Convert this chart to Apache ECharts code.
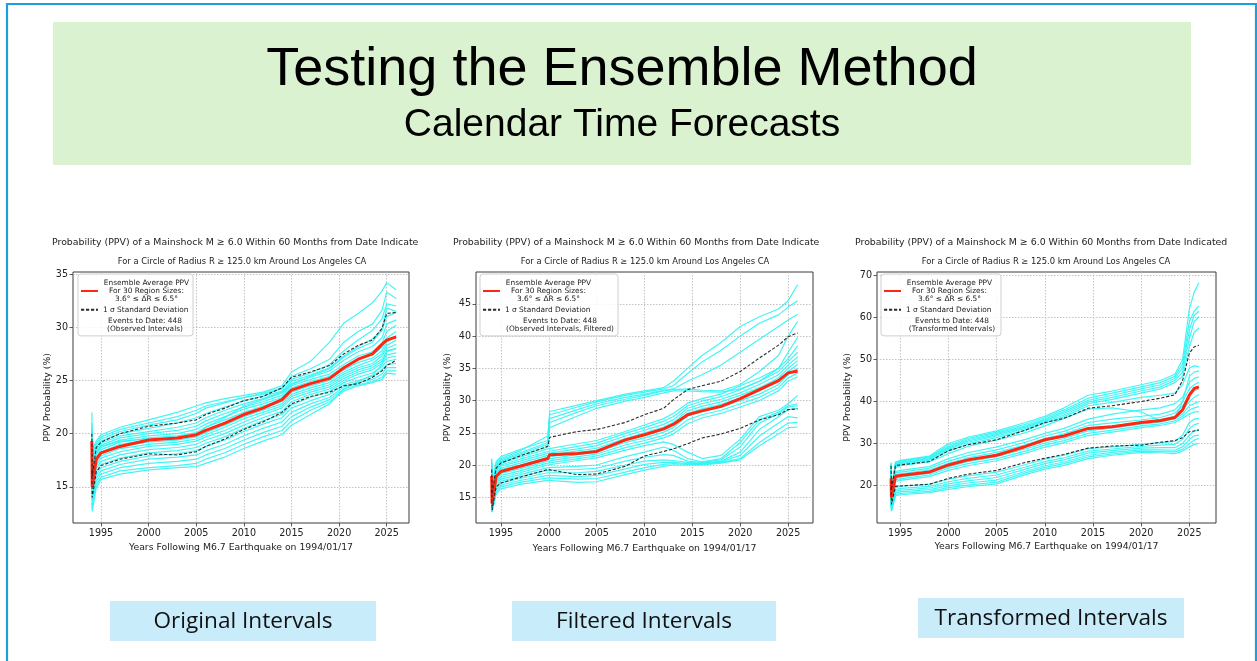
<!DOCTYPE html>
<html>
<head>
<meta charset="utf-8">
<title>Testing the Ensemble Method</title>
<script src="https://cdn.jsdelivr.net/npm/echarts@6/dist/echarts.min.js"></script>
<style>
  html, body { margin: 0; padding: 0; background: #ffffff; }
  #main { width: 1257px; height: 661px; }
</style>
</head>
<body>
<div id="main"></div>
<script>
// ---------------------------------------------------------------
// Shared text and tick labels
// ---------------------------------------------------------------
const SLIDE_TITLE = 'Testing the Ensemble Method';
const SLIDE_SUBTITLE = 'Calendar Time Forecasts';
const PLOT_TITLE = 'Probability (PPV) of a Mainshock M \u2265 6.0 Within 60 Months from Date Indicated';
const PLOT_SUBTITLE = 'For a Circle of Radius R \u2265 125.0 km Around Los Angeles CA';
const X_NAME = 'Years Following M6.7 Earthquake on 1994/01/17';
const Y_NAME = 'PPV Probability (%)';
const LEGEND_ENSEMBLE = ['Ensemble Average PPV', 'For 30 Region Sizes:', '3.6\u00b0 \u2264 \u0394R \u2264 6.5\u00b0'];
const LEGEND_SIGMA = ['1 \u03c3 Standard Deviation'];
const PANEL_LABELS = ['Original Intervals', 'Filtered Intervals', 'Transformed Intervals'];

const X_TICKS = [1995, 2000, 2005, 2010, 2015, 2020, 2025];

// ---------------------------------------------------------------
// Panel 1: observed intervals
// ---------------------------------------------------------------
const NOTE_ORIG = ['Events to Date: 448', '(Observed Intervals)'];
const Y_TICKS_ORIG = [15, 20, 25, 30, 35];
const YEARS_ORIG = [1994.04, 1994.08, 1994.5, 1995, 1997, 2000, 2003, 2005, 2006, 2008, 2010, 2012, 2014, 2015, 2017, 2019, 2020.5, 2022, 2023.5, 2024.5, 2025, 2026];
const MEAN_ORIG  = [19.3, 15.0, 17.6, 18.2, 18.8, 19.4, 19.6, 19.9, 20.3, 21.0, 21.8, 22.4, 23.2, 24.1, 24.7, 25.2, 26.2, 27.0, 27.5, 28.4, 28.8, 29.1];
const UPPER_ORIG = [20.0, 16.0, 18.7, 19.2, 20.0, 20.7, 21.0, 21.3, 21.8, 22.4, 23.1, 23.5, 24.3, 25.3, 25.8, 26.4, 27.5, 28.3, 28.8, 29.9, 31.3, 31.4];
const LOWER_ORIG = [16.5, 14.0, 16.4, 17.0, 17.6, 18.1, 18.0, 18.3, 18.8, 19.5, 20.4, 21.1, 22.0, 22.8, 23.5, 23.9, 24.5, 24.7, 25.3, 25.9, 26.4, 26.9];
const REGIONS_ORIG = [
  [22.0, 18.5, 19.3, 19.9, 20.6, 21.3, 22.0, 22.6, 22.9, 23.3, 23.6, 23.9, 24.5, 25.8, 26.8, 28.6, 30.4, 31.3, 32.3, 33.4, 34.2, 33.5],
  [21.0, 18.2, 19.1, 19.7, 20.4, 21.0, 21.6, 22.2, 22.6, 23.0, 23.4, 23.7, 24.2, 25.4, 26.1, 27.0, 28.6, 29.6, 30.3, 31.6, 33.3, 32.7],
  [20.5, 17.9, 18.9, 19.5, 20.2, 20.8, 21.3, 21.9, 22.4, 22.9, 23.4, 23.8, 24.3, 25.1, 25.7, 26.5, 27.8, 28.8, 29.7, 30.8, 32.2, 32.0],
  [20.0, 17.6, 18.7, 19.3, 20.0, 20.5, 21.0, 21.5, 21.9, 22.5, 23.1, 23.5, 24.0, 24.9, 25.5, 26.2, 27.3, 28.2, 28.9, 29.7, 31.0, 31.4],
  [19.6, 17.3, 18.5, 19.1, 19.8, 20.2, 20.6, 21.0, 21.5, 22.2, 22.8, 23.3, 23.9, 24.7, 25.3, 25.9, 26.9, 27.7, 28.2, 29.0, 30.3, 30.7],
  [19.2, 17.0, 18.3, 18.9, 19.6, 20.0, 20.3, 20.7, 21.2, 21.9, 22.5, 23.0, 23.6, 24.5, 25.1, 25.6, 26.5, 27.3, 27.7, 28.5, 29.6, 30.2],
  [18.8, 16.8, 18.1, 18.7, 19.4, 19.8, 20.0, 20.4, 20.9, 21.6, 22.3, 22.8, 23.4, 24.3, 24.9, 25.4, 26.2, 27.0, 27.4, 28.1, 29.0, 29.6],
  [18.5, 16.5, 17.9, 18.5, 19.2, 19.6, 19.8, 20.1, 20.6, 21.3, 22.0, 22.6, 23.2, 24.1, 24.7, 25.2, 26.0, 26.7, 27.1, 27.8, 28.6, 29.2],
  [18.2, 16.2, 17.7, 18.3, 19.0, 19.4, 19.6, 19.9, 20.3, 21.0, 21.8, 22.4, 23.0, 23.9, 24.5, 25.0, 25.8, 26.4, 26.9, 27.5, 28.3, 28.8],
  [17.8, 16.0, 17.5, 18.1, 18.8, 19.2, 19.4, 19.7, 20.1, 20.8, 21.6, 22.2, 22.8, 23.7, 24.3, 24.8, 25.6, 26.2, 26.6, 27.3, 28.0, 28.4],
  [17.4, 15.7, 17.3, 17.9, 18.6, 19.0, 19.2, 19.5, 19.9, 20.6, 21.4, 22.0, 22.6, 23.5, 24.1, 24.6, 25.4, 26.0, 26.4, 27.0, 27.7, 28.0],
  [17.0, 15.4, 17.0, 17.7, 18.3, 18.8, 19.0, 19.3, 19.7, 20.3, 21.1, 21.8, 22.4, 23.3, 23.9, 24.4, 25.2, 25.8, 26.2, 26.8, 27.4, 27.6],
  [16.6, 15.1, 16.7, 17.4, 18.0, 18.5, 18.7, 19.0, 19.4, 20.0, 20.8, 21.5, 22.1, 23.0, 23.7, 24.2, 25.0, 25.6, 26.0, 26.6, 27.1, 27.3],
  [16.2, 14.8, 16.4, 17.1, 17.7, 18.2, 18.4, 18.7, 19.1, 19.7, 20.5, 21.2, 21.8, 22.7, 23.4, 24.0, 24.8, 25.3, 25.7, 26.3, 26.8, 27.0],
  [15.8, 14.5, 16.1, 16.8, 17.4, 17.9, 18.1, 18.4, 18.8, 19.4, 20.2, 20.9, 21.5, 22.4, 23.1, 23.7, 24.6, 25.0, 25.4, 26.0, 26.5, 26.6],
  [15.3, 14.1, 15.8, 16.5, 17.1, 17.6, 17.8, 18.0, 18.4, 19.0, 19.8, 20.5, 21.1, 22.0, 22.8, 23.4, 24.4, 24.8, 25.1, 25.6, 26.2, 26.2],
  [14.8, 13.7, 15.5, 16.2, 16.8, 17.2, 17.4, 17.6, 18.0, 18.6, 19.4, 20.1, 20.7, 21.6, 22.5, 23.2, 24.2, 24.6, 24.9, 25.3, 25.9, 25.9],
  [14.2, 13.3, 15.2, 15.9, 16.5, 16.8, 17.0, 17.2, 17.6, 18.2, 19.0, 19.7, 20.3, 21.2, 22.2, 23.0, 24.0, 24.5, 24.8, 25.1, 25.7, 25.6],
  [13.5, 12.7, 14.9, 15.7, 16.2, 16.6, 16.8, 16.9, 17.2, 17.8, 18.6, 19.3, 19.9, 20.8, 21.8, 22.8, 24.2, 24.9, 25.5, 26.5, 27.8, 28.0],
  [19.0, 16.9, 18.2, 18.8, 19.3, 19.5, 19.5, 19.8, 20.6, 21.5, 22.6, 23.2, 23.8, 24.6, 25.4, 26.1, 27.2, 28.0, 28.6, 29.8, 31.8, 31.5]
];

// ---------------------------------------------------------------
// Panel 2: observed intervals, filtered
// ---------------------------------------------------------------
const NOTE_FILT = ['Events to Date: 448', '(Observed Intervals, Filtered)'];
const Y_TICKS_FILT = [15, 20, 25, 30, 35, 40, 45];
const YEARS_FILT = [1994.04, 1994.08, 1994.5, 1995, 1997, 1999.9, 2000.1, 2003, 2005, 2008, 2010, 2012, 2013, 2014.5, 2016, 2018, 2020, 2022, 2024, 2025, 2026];
const MEAN_FILT  = [18.3, 14.0, 18.2, 19.0, 19.8, 21.0, 21.6, 21.8, 22.1, 23.9, 24.7, 25.6, 26.3, 27.8, 28.4, 29.1, 30.3, 31.7, 33.1, 34.3, 34.6];
const UPPER_FILT = [19.3, 15.5, 19.5, 20.3, 21.4, 22.9, 24.3, 25.2, 25.5, 26.6, 27.8, 28.8, 30.1, 31.7, 32.3, 33.0, 34.5, 36.6, 38.6, 39.9, 40.5];
const LOWER_FILT = [16.2, 13.0, 16.6, 17.2, 18.1, 19.3, 19.3, 18.5, 18.6, 19.8, 21.4, 22.1, 22.5, 23.3, 24.2, 24.8, 25.7, 27.0, 27.8, 28.6, 28.7];
const REGIONS_FILT = [
  [21.0, 17.0, 20.5, 21.3, 22.4, 23.8, 28.3, 29.3, 30.0, 31.0, 31.5, 32.0, 33.0, 35.0, 37.0, 39.0, 41.5, 43.0, 44.2, 45.5, 48.0],
  [20.8, 16.8, 20.3, 21.0, 22.2, 24.5, 27.8, 29.0, 29.8, 30.8, 31.3, 31.8, 32.3, 34.2, 36.0, 37.8, 40.0, 42.0, 43.3, 44.5, 45.5],
  [20.5, 16.5, 20.0, 20.8, 21.9, 23.5, 27.2, 28.6, 29.5, 30.5, 31.0, 31.6, 31.8, 33.0, 34.0, 35.5, 37.5, 39.5, 41.5, 42.5, 43.4],
  [20.3, 16.3, 19.8, 20.6, 21.7, 23.2, 26.6, 28.2, 29.2, 30.2, 30.8, 31.5, 31.7, 31.8, 31.6, 31.5, 32.5, 34.5, 37.0, 40.0, 42.3],
  [20.0, 16.0, 19.6, 20.4, 21.5, 22.8, 25.8, 27.6, 28.8, 29.9, 30.5, 31.2, 31.5, 31.5, 31.4, 31.3, 31.8, 33.0, 35.0, 37.5, 39.8],
  [19.8, 15.8, 19.5, 20.3, 21.2, 22.5, 22.8, 23.3, 23.8, 25.2, 26.2, 27.2, 28.0, 29.6, 30.3, 31.0, 32.3, 33.5, 35.0, 36.5, 38.5],
  [19.5, 15.5, 19.2, 20.0, 20.9, 22.1, 22.4, 22.9, 23.4, 24.9, 25.8, 26.8, 27.5, 29.2, 29.9, 30.6, 31.7, 33.0, 34.5, 36.0, 37.5],
  [19.3, 15.3, 19.0, 19.8, 20.6, 21.8, 22.1, 22.5, 23.0, 24.5, 25.4, 26.3, 27.0, 28.8, 29.5, 30.2, 31.2, 32.5, 34.0, 35.5, 36.8],
  [19.0, 15.0, 18.7, 19.5, 20.3, 21.5, 21.8, 22.2, 22.6, 24.1, 25.0, 25.9, 26.6, 28.4, 29.1, 29.8, 30.8, 32.0, 33.5, 35.0, 36.2],
  [18.8, 14.7, 18.5, 19.3, 20.0, 21.2, 21.5, 21.9, 22.3, 23.8, 24.6, 25.5, 26.2, 28.0, 28.7, 29.4, 30.4, 31.5, 33.0, 34.5, 35.6],
  [18.5, 14.4, 18.2, 19.0, 19.7, 20.9, 21.2, 21.6, 22.0, 23.5, 24.2, 25.1, 25.8, 27.6, 28.3, 29.0, 30.0, 31.0, 32.5, 34.0, 35.0],
  [18.2, 14.1, 17.9, 18.7, 19.4, 20.6, 20.9, 21.3, 21.7, 23.1, 23.8, 24.6, 25.3, 27.0, 27.8, 28.5, 29.5, 30.5, 32.0, 33.5, 34.3],
  [17.9, 13.8, 17.6, 18.4, 19.1, 20.3, 20.6, 21.0, 21.4, 22.7, 23.4, 24.2, 24.8, 26.4, 27.3, 28.0, 29.0, 30.0, 31.5, 33.0, 33.7],
  [17.6, 13.5, 17.3, 18.1, 18.8, 20.0, 20.3, 20.7, 21.1, 22.3, 23.0, 23.6, 23.2, 22.0, 21.0, 21.5, 24.0, 27.5, 28.5, 29.5, 30.8],
  [17.3, 13.3, 17.0, 17.8, 18.5, 19.6, 19.8, 19.8, 20.0, 21.3, 22.0, 22.8, 22.3, 21.0, 20.5, 21.0, 23.5, 27.0, 28.2, 29.2, 29.5],
  [17.0, 13.0, 16.7, 17.5, 18.2, 19.2, 19.3, 19.3, 19.5, 20.6, 21.2, 21.6, 21.5, 20.6, 20.4, 20.8, 22.8, 26.5, 28.0, 29.0, 29.2],
  [16.7, 12.8, 16.4, 17.2, 17.9, 18.8, 18.9, 18.8, 19.0, 20.0, 20.6, 20.8, 20.7, 20.4, 20.3, 20.6, 22.0, 25.5, 27.5, 28.6, 28.8],
  [16.4, 12.7, 16.1, 16.9, 17.6, 18.4, 18.4, 18.2, 18.4, 19.4, 20.1, 20.4, 20.4, 20.2, 20.2, 20.5, 21.5, 24.5, 26.5, 27.5, 27.3],
  [16.1, 12.7, 15.8, 16.6, 17.3, 18.0, 18.0, 17.8, 17.9, 18.9, 19.6, 20.1, 20.2, 20.1, 20.1, 20.4, 21.0, 23.5, 25.5, 26.5, 26.6],
  [15.8, 12.7, 15.5, 16.3, 17.0, 17.6, 17.6, 17.3, 17.4, 18.5, 19.2, 19.8, 20.0, 20.0, 20.0, 20.3, 20.8, 23.0, 24.8, 25.8, 25.9]
];

// ---------------------------------------------------------------
// Panel 3: transformed intervals
// ---------------------------------------------------------------
const NOTE_TRANS = ['Events to Date: 448', '(Transformed Intervals)'];
const Y_TICKS_TRANS = [20, 30, 40, 50, 60, 70];
const YEARS_TRANS = [1994.04, 1994.08, 1994.5, 1995, 1998, 2000, 2002, 2005, 2008, 2010, 2012, 2014.5, 2017, 2020, 2022, 2023.5, 2024.3, 2025, 2025.5, 2026];
const MEAN_TRANS  = [21.7, 17.2, 22.2, 22.4, 23.2, 24.9, 26.1, 27.2, 29.3, 30.9, 31.8, 33.6, 34.0, 35.0, 35.5, 36.2, 38.0, 41.5, 43.1, 43.5];
const UPPER_TRANS = [24.7, 19.0, 24.8, 24.9, 25.7, 28.3, 29.7, 30.9, 33.2, 35.0, 36.0, 38.4, 39.0, 40.0, 40.8, 41.6, 45.0, 51.5, 53.0, 53.4];
const LOWER_TRANS = [19.6, 15.5, 19.8, 19.9, 20.3, 21.7, 22.7, 23.6, 25.5, 26.5, 27.4, 28.9, 29.4, 29.6, 30.3, 30.7, 31.4, 32.8, 33.0, 33.2];
const REGIONS_TRANS = [
  [25.5, 19.5, 25.6, 26.0, 27.0, 30.0, 31.5, 33.0, 35.0, 36.5, 38.5, 41.5, 42.5, 44.0, 45.0, 46.5, 50.0, 62.0, 66.0, 68.3],
  [25.3, 19.3, 25.4, 25.8, 26.8, 29.6, 31.2, 32.7, 34.6, 36.2, 38.0, 40.8, 42.0, 43.5, 44.5, 46.0, 49.0, 59.0, 61.5, 62.8],
  [25.0, 19.0, 25.2, 25.6, 26.6, 29.2, 30.9, 32.4, 34.2, 35.8, 37.6, 40.3, 41.5, 43.0, 44.0, 45.5, 48.0, 57.0, 60.5, 61.5],
  [24.8, 18.8, 25.0, 25.4, 26.4, 28.9, 30.6, 32.1, 33.9, 35.5, 37.2, 39.9, 41.0, 42.5, 43.5, 45.0, 47.0, 55.0, 59.0, 60.2],
  [24.5, 18.5, 24.8, 25.2, 26.2, 28.6, 30.3, 31.8, 33.6, 35.2, 36.8, 39.5, 40.5, 42.0, 43.0, 44.5, 46.0, 53.0, 56.5, 57.5],
  [24.2, 18.2, 24.5, 25.0, 26.0, 28.2, 29.9, 31.4, 33.2, 34.8, 36.4, 39.0, 39.8, 41.0, 41.5, 42.0, 44.0, 48.0, 48.5, 48.3],
  [23.8, 17.8, 24.2, 24.7, 25.6, 27.6, 29.3, 30.8, 32.6, 34.2, 36.0, 38.2, 38.5, 37.5, 35.5, 36.0, 40.0, 46.0, 47.0, 47.3],
  [23.2, 17.4, 23.3, 23.6, 24.5, 26.4, 27.8, 29.2, 31.0, 32.4, 33.6, 35.8, 37.0, 38.0, 38.5, 39.5, 41.0, 44.5, 45.5, 45.8],
  [22.8, 17.0, 23.0, 23.2, 24.1, 25.8, 27.1, 28.5, 30.3, 31.8, 32.9, 35.0, 35.8, 36.5, 37.0, 38.0, 40.0, 43.0, 44.0, 44.6],
  [22.4, 16.6, 22.6, 22.8, 23.7, 25.3, 26.6, 27.9, 29.7, 31.2, 32.3, 34.3, 34.9, 35.6, 36.2, 37.2, 39.0, 41.5, 42.5, 43.0],
  [22.0, 16.3, 22.2, 22.4, 23.3, 24.9, 26.1, 27.4, 29.2, 30.6, 31.7, 33.6, 34.2, 35.0, 35.6, 36.5, 38.0, 40.0, 41.0, 41.6],
  [21.6, 16.0, 21.8, 22.0, 22.9, 24.5, 25.7, 26.9, 28.7, 30.1, 31.2, 33.0, 33.7, 34.6, 35.1, 35.9, 37.0, 39.0, 39.5, 40.0],
  [21.2, 15.7, 21.4, 21.6, 22.5, 24.1, 25.2, 26.4, 28.2, 29.6, 30.7, 32.4, 33.2, 34.2, 34.7, 35.4, 36.5, 38.0, 38.5, 38.8],
  [20.8, 15.4, 21.0, 21.2, 22.1, 23.6, 24.7, 25.9, 27.7, 29.1, 30.2, 31.9, 32.7, 33.8, 34.3, 35.0, 36.0, 37.0, 37.5, 37.6],
  [19.5, 15.0, 19.5, 19.8, 20.3, 21.5, 22.3, 23.2, 25.0, 26.3, 27.2, 28.8, 29.2, 29.8, 30.2, 30.5, 32.0, 35.0, 35.8, 36.0],
  [19.0, 14.7, 19.0, 19.3, 19.8, 20.9, 21.7, 22.5, 24.4, 25.7, 26.6, 28.2, 28.7, 29.3, 29.6, 29.8, 31.0, 33.5, 34.5, 34.8],
  [18.6, 14.4, 18.6, 18.9, 19.4, 20.4, 21.1, 21.9, 23.9, 25.2, 26.1, 27.7, 28.3, 28.9, 29.0, 29.0, 30.0, 32.0, 33.0, 33.3],
  [18.2, 14.2, 18.2, 18.5, 19.0, 19.9, 20.6, 21.3, 23.4, 24.7, 25.6, 27.2, 27.9, 28.5, 28.5, 28.4, 29.2, 31.0, 31.8, 32.0],
  [17.8, 14.0, 17.9, 18.1, 18.6, 19.5, 20.1, 20.8, 23.0, 24.3, 25.2, 26.8, 27.5, 28.2, 28.1, 28.0, 28.6, 30.0, 30.8, 31.2],
  [17.5, 13.9, 17.6, 17.8, 18.3, 19.1, 19.7, 20.4, 22.6, 23.9, 24.8, 26.4, 27.2, 27.9, 27.8, 27.6, 28.2, 29.2, 29.8, 30.0]
];

// ---------------------------------------------------------------
// Layout of the three plots (page pixels) and their axis ranges
// ---------------------------------------------------------------
const PANELS = [
  { years: YEARS_ORIG, mean: MEAN_ORIG, upper: UPPER_ORIG, lower: LOWER_ORIG, regions: REGIONS_ORIG,
    yTicks: Y_TICKS_ORIG, note: NOTE_ORIG,
    grid: { left: 73, top: 272, width: 336, height: 251 },
    xRange: [1992.06, 2027.34], yRange: [11.6, 35.2],
    titleLeft: 52, titleWidth: 372, subCenter: 242, yNameGap: 21, xNameGap: 20,
    legendLeft: 78, noteWidth: 84 },
  { years: YEARS_FILT, mean: MEAN_FILT, upper: UPPER_FILT, lower: LOWER_FILT, regions: REGIONS_FILT,
    yTicks: Y_TICKS_FILT, note: NOTE_FILT,
    grid: { left: 476, top: 272, width: 337, height: 251 },
    xRange: [1992.4, 2027.6], yRange: [11.0, 49.95],
    titleLeft: 453, titleWidth: 372, subCenter: 645, yNameGap: 24, xNameGap: 21,
    legendLeft: 480, noteWidth: 110 },
  { years: YEARS_TRANS, mean: MEAN_TRANS, upper: UPPER_TRANS, lower: LOWER_TRANS, regions: REGIONS_TRANS,
    yTicks: Y_TICKS_TRANS, note: NOTE_TRANS,
    grid: { left: 877, top: 272, width: 339, height: 251 },
    xRange: [1992.58, 2027.77], yRange: [11.07, 70.85],
    titleLeft: 855, titleWidth: 400, subCenter: 1046, yNameGap: 24.5, xNameGap: 19,
    legendLeft: 881, noteWidth: 92 }
];

const PLOT_FONT = '"DejaVu Sans", sans-serif';
const CYAN = '#2ef4f4';
const RED = '#ff2612';
const DASH = '#2a2a2a';

const grids = [], xAxes = [], yAxes = [], series = [], titles = [], legends = [];

PANELS.forEach((p, i) => {
  grids.push(Object.assign({ show: true, borderColor: '#3a3a3a', borderWidth: 1,
    backgroundColor: 'transparent', containLabel: false, outerBoundsMode: 'none' }, p.grid));

  xAxes.push({
    type: 'value', gridIndex: i, min: p.xRange[0], max: p.xRange[1],
    name: X_NAME, nameLocation: 'middle', nameGap: p.xNameGap,
    nameTextStyle: { fontFamily: PLOT_FONT, fontSize: 9.3, color: '#222' },
    axisLine: { show: false },
    axisTick: { show: true, customValues: X_TICKS, length: 3.5, lineStyle: { color: '#333', width: 0.8 } },
    axisLabel: { customValues: X_TICKS, formatter: v => String(v),
      fontFamily: PLOT_FONT, fontSize: 9.6, color: '#222', margin: 5 },
    splitLine: { show: true, lineStyle: { color: '#b4b4b4', width: 0.8, type: [1.5, 1.5] } }
  });

  yAxes.push({
    type: 'value', gridIndex: i, min: p.yRange[0], max: p.yRange[1],
    name: Y_NAME, nameLocation: 'middle', nameGap: p.yNameGap, nameRotate: 90,
    nameTextStyle: { fontFamily: PLOT_FONT, fontSize: 9.3, color: '#222' },
    axisLine: { show: false },
    axisTick: { show: true, customValues: p.yTicks, length: 3.5, lineStyle: { color: '#333', width: 0.8 } },
    axisLabel: { customValues: p.yTicks, formatter: v => String(v),
      fontFamily: PLOT_FONT, fontSize: 9.6, color: '#222', margin: 5 },
    splitLine: { show: true, lineStyle: { color: '#b4b4b4', width: 0.8, type: [1.5, 1.5] } }
  });

  const pairs = vals => p.years.map((x, k) => [x, vals[k]]);

  p.regions.forEach(vals => {
    series.push({
      type: 'line', xAxisIndex: i, yAxisIndex: i, data: pairs(vals),
      symbol: 'none', silent: true, z: 2,
      lineStyle: { color: CYAN, width: 1.2, opacity: 0.9 }
    });
  });

  [p.upper, p.lower].forEach(vals => {
    series.push({
      name: 'sigma', type: 'line', xAxisIndex: i, yAxisIndex: i, data: pairs(vals),
      symbol: 'none', silent: true, z: 4,
      itemStyle: { color: DASH },
      lineStyle: { color: DASH, width: 1.1, type: [3.2, 1.8] }
    });
  });

  series.push({
    name: 'ensemble', type: 'line', xAxisIndex: i, yAxisIndex: i, data: pairs(p.mean),
    symbol: 'none', silent: true, z: 3,
    itemStyle: { color: RED },
    lineStyle: { color: RED, width: 3 }
  });

  // Text-only legend row (no line drawn)
  series.push({
    name: 'note', type: 'line', xAxisIndex: i, yAxisIndex: i, data: [],
    symbol: 'none', silent: true,
    itemStyle: { color: '#fff', opacity: 0 },
    lineStyle: { opacity: 0, width: 0 }
  });

  titles.push({
    text: PLOT_TITLE, left: p.titleLeft, top: 238, padding: 0,
    textStyle: { fontFamily: PLOT_FONT, fontSize: 9.4, fontWeight: 'normal', color: '#222',
      width: p.titleWidth, overflow: 'truncate', ellipsis: '' }
  });
  titles.push({
    text: PLOT_SUBTITLE, left: p.subCenter, textAlign: 'center', top: 257.5, padding: 0,
    textStyle: { fontFamily: PLOT_FONT, fontSize: 8.4, fontWeight: 'normal', color: '#222' }
  });

  const labelLines = { ensemble: LEGEND_ENSEMBLE, sigma: LEGEND_SIGMA, note: p.note };
  const styleFor = { ensemble: 'a', sigma: 'b', note: 'c' };
  legends.push({
    orient: 'vertical', left: p.legendLeft, top: 274,
    itemWidth: 17, itemHeight: 8, itemGap: 3.8,
    padding: [5.5, 3, 3.5, 2],
    backgroundColor: 'rgba(255,255,255,0.85)', borderColor: '#cfcfcf', borderWidth: 1, borderRadius: 3,
    selectedMode: false, z: 10,
    itemStyle: { color: 'rgba(0,0,0,0)', borderWidth: 0, opacity: 0 },
    data: [
      { name: 'ensemble' },
      { name: 'sigma' },
      { name: 'note', lineStyle: { opacity: 0 } }
    ],
    formatter: name => labelLines[name].map(l => '{' + styleFor[name] + '|' + l + '}').join('\n'),
    textStyle: {
      fontFamily: PLOT_FONT, fontSize: 7.4, color: '#222',
      rich: {
        a: { fontFamily: PLOT_FONT, fontSize: 7.4, color: '#222', lineHeight: 8, width: 87, align: 'center' },
        b: { fontFamily: PLOT_FONT, fontSize: 7.4, color: '#222', lineHeight: 8 },
        c: { fontFamily: PLOT_FONT, fontSize: 7.4, color: '#222', lineHeight: 8.3, width: p.noteWidth, align: 'center' }
      }
    }
  });
});

// ---------------------------------------------------------------
// Slide frame, heading band and panel captions
// ---------------------------------------------------------------
const CAPTION_BOXES = [
  { x: 110, y: 601, w: 266, h: 40 },
  { x: 512, y: 601, w: 264, h: 40 },
  { x: 918, y: 598, w: 266, h: 40 }
];
const graphics = [
  { type: 'rect', silent: true, z: 0, shape: { x: 7, y: 4, width: 1249, height: 700 },
    style: { fill: 'none', stroke: '#1c9fdc', lineWidth: 2.2 } },
  { type: 'rect', silent: true, z: 0, shape: { x: 53, y: 22, width: 1138, height: 143 },
    style: { fill: '#daf2d0' } },
  { type: 'text', silent: true, z: 1, x: 622, y: 70,
    style: { text: SLIDE_TITLE, fontFamily: '"Liberation Sans", Arial, sans-serif', fontSize: 54,
      fill: '#000', align: 'center', verticalAlign: 'middle' } },
  { type: 'text', silent: true, z: 1, x: 622, y: 125,
    style: { text: SLIDE_SUBTITLE, fontFamily: '"Liberation Sans", Arial, sans-serif', fontSize: 39,
      fill: '#000', align: 'center', verticalAlign: 'middle' } }
];
CAPTION_BOXES.forEach((b, i) => {
  graphics.push({ type: 'rect', silent: true, z: 0, shape: { x: b.x, y: b.y, width: b.w, height: b.h },
    style: { fill: '#c9ecfb' } });
  graphics.push({ type: 'text', silent: true, z: 1, x: b.x + b.w / 2, y: b.y + b.h / 2 + 1,
    style: { text: PANEL_LABELS[i], fontFamily: '"Open Sans", sans-serif', fontSize: 22.6,
      fill: '#111', align: 'center', verticalAlign: 'middle' } });
});

const chart = echarts.init(document.getElementById('main'), null, { renderer: 'canvas' });
chart.setOption({
  animation: false,
  backgroundColor: '#ffffff',
  title: titles,
  legend: legends,
  grid: grids,
  xAxis: xAxes,
  yAxis: yAxes,
  series: series,
  graphic: graphics
});
</script>
</body>
</html>
